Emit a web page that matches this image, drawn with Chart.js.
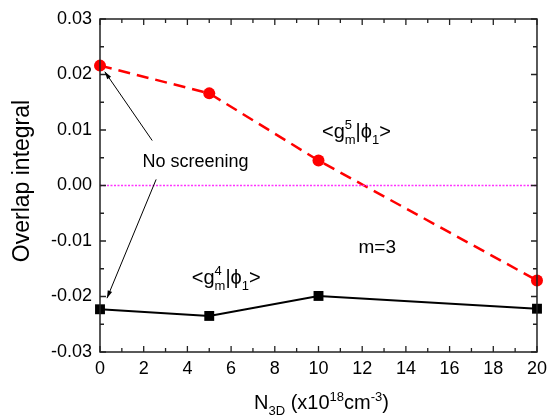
<!DOCTYPE html>
<html>
<head>
<meta charset="utf-8">
<script src="https://cdn.jsdelivr.net/npm/chart.js@4"></script>
<style>
  body { margin: 0; background: #fff; }
  #wrap { width: 553px; height: 416px; }
</style>
</head>
<body>
<div id="wrap"><canvas id="overlapChart" width="553" height="416"></canvas></div>
<script>
// values
const densities = [0, 5, 10, 20];
const overlapG5 = [0.0216, 0.0166, 0.0045, -0.0171];
const overlapG4 = [-0.0223, -0.0235, -0.0199, -0.0222];
const zeroLineX = [0, 20];
const zeroLineY = [0, 0];

const FONT = "'Liberation Sans', Arial, sans-serif";

function toPoints(xs, ys) {
    return xs.map((x, i) => ({ x: x, y: ys[i] }));
}

// draws text with sub/superscripts; parts: {t}, {sub}, {sup}, or {sup, sub} stacked
function richText(ctx, x, y, parts, size) {
    const small = Math.round(size * 0.65);
    let cx = x;
    parts.forEach(p => {
        if (p.t !== undefined) {
            ctx.font = size + 'px ' + FONT;
            ctx.fillText(p.t, cx, y);
            cx += ctx.measureText(p.t).width;
        } else {
            ctx.font = small + 'px ' + FONT;
            let w = 0;
            if (p.sup !== undefined) {
                ctx.fillText(p.sup, cx, y - size * 0.42);
                w = Math.max(w, ctx.measureText(p.sup).width);
            }
            if (p.sub !== undefined) {
                ctx.fillText(p.sub, cx, y + size * 0.3);
                w = Math.max(w, ctx.measureText(p.sub).width);
            }
            cx += w;
        }
    });
    return cx - x;
}

function arrow(ctx, x1, y1, x2, y2) {
    const ang = Math.atan2(y2 - y1, x2 - x1);
    ctx.beginPath();
    ctx.moveTo(x1, y1);
    ctx.lineTo(x2, y2);
    ctx.stroke();
    const len = 8, spread = 0.3;
    ctx.beginPath();
    ctx.moveTo(x2, y2);
    ctx.lineTo(x2 - len * Math.cos(ang - spread), y2 - len * Math.sin(ang - spread));
    ctx.lineTo(x2 - len * Math.cos(ang + spread), y2 - len * Math.sin(ang + spread));
    ctx.closePath();
    ctx.fill();
}

const decorations = {
    id: 'decorations',
    afterDraw(chart) {
        const ctx = chart.ctx;
        const xs = chart.scales.x, ys = chart.scales.y;
        const a = chart.chartArea;
        ctx.save();
        ctx.strokeStyle = '#222';
        ctx.lineWidth = 1.5;
        ctx.strokeRect(a.left, a.top, a.right - a.left, a.bottom - a.top);

        // inward ticks on all four sides
        ctx.lineWidth = 1.3;
        ctx.beginPath();
        for (let v = 0; v <= 20; v += 1) {
            const px = xs.getPixelForValue(v);
            const len = v % 2 === 0 ? 6 : 4;
            ctx.moveTo(px, a.bottom); ctx.lineTo(px, a.bottom - len);
            ctx.moveTo(px, a.top); ctx.lineTo(px, a.top + len);
        }
        for (let i = -6; i <= 6; i++) {
            const py = ys.getPixelForValue(i * 0.005);
            const len = i % 2 === 0 ? 6 : 4;
            ctx.moveTo(a.left, py); ctx.lineTo(a.left + len, py);
            ctx.moveTo(a.right, py); ctx.lineTo(a.right - len, py);
        }
        ctx.stroke();

        // annotations
        ctx.fillStyle = '#000';
        ctx.textBaseline = 'alphabetic';
        ctx.textAlign = 'left';
        ctx.font = '18px ' + FONT;
        ctx.fillText('No screening', xs.getPixelForValue(1.94), ys.getPixelForValue(0.0034));
        ctx.font = '19px ' + FONT;
        ctx.fillText('m=3', xs.getPixelForValue(11.83), ys.getPixelForValue(-0.0121));
        richText(ctx, xs.getPixelForValue(10.16), ys.getPixelForValue(0.0086),
            [{ t: '<g' }, { sup: '5', sub: 'm' }, { t: '|\u03d5' }, { sub: '1' }, { t: '>' }], 20);
        richText(ctx, xs.getPixelForValue(4.2), ys.getPixelForValue(-0.0177),
            [{ t: '<g' }, { sup: '4', sub: 'm' }, { t: '|\u03d5' }, { sub: '1' }, { t: '>' }], 20);

        ctx.strokeStyle = '#000';
        ctx.lineWidth = 1;
        arrow(ctx, xs.getPixelForValue(2.39), ys.getPixelForValue(0.0081),
            xs.getPixelForValue(0.22), ys.getPixelForValue(0.0205));
        arrow(ctx, xs.getPixelForValue(2.57), ys.getPixelForValue(0.0011),
            xs.getPixelForValue(0.32), ys.getPixelForValue(-0.0203));

        // axis titles
        const xParts = [{ t: 'N' }, { sub: '3D' }, { t: ' (x10' }, { sup: '18' }, { t: 'cm' }, { sup: '-3' }, { t: ')' }];
        ctx.globalAlpha = 0;
        const w = richText(ctx, 0, 0, xParts, 20);
        ctx.globalAlpha = 1;
        richText(ctx, (a.left + a.right) / 2 - w / 2 + 3, a.bottom + 57, xParts, 20);

        ctx.translate(23, 181);
        ctx.rotate(-Math.PI / 2);
        ctx.textAlign = 'center';
        ctx.textBaseline = 'middle';
        ctx.font = '23px ' + FONT;
        ctx.fillText('Overlap integral', 0, 0);
        ctx.restore();
    }
};

new Chart(document.getElementById('overlapChart').getContext('2d'), {
    type: 'scatter',
    data: {
        datasets: [
            {
                label: 'zero',
                data: toPoints(zeroLineX, zeroLineY),
                showLine: true,
                borderColor: '#ff33ff',
                backgroundColor: '#ff33ff',
                borderWidth: 1.5,
                borderDash: [2, 1.5],
                pointRadius: 0
            },
            {
                label: '<g5m|phi1>',
                data: toPoints(densities, overlapG5),
                showLine: true,
                borderColor: '#ff0000',
                backgroundColor: '#ff0000',
                borderWidth: 2.5,
                borderDash: [12, 7],
                pointStyle: 'circle',
                pointRadius: 6,
                pointBorderWidth: 0,
                clip: false
            },
            {
                label: '<g4m|phi1>',
                data: toPoints(densities, overlapG4),
                showLine: true,
                borderColor: '#000',
                backgroundColor: '#000',
                borderWidth: 2,
                pointStyle: 'rect',
                pointRadius: 7,
                pointBorderWidth: 0,
                clip: false
            }
        ]
    },
    options: {
        responsive: false,
        animation: false,
        layout: { padding: { top: 19, right: 10, left: 0, bottom: 0 } },
        plugins: {
            legend: { display: false },
            tooltip: { enabled: false }
        },
        scales: {
            x: {
                type: 'linear',
                min: 0,
                max: 20,
                grid: { display: false, drawTicks: false },
                border: { display: false },
                ticks: {
                    stepSize: 2,
                    padding: 6,
                    color: '#000',
                    font: { family: FONT, size: 18 }
                },
                afterFit(scale) { scale.height = 64; }
            },
            y: {
                min: -0.03,
                max: 0.03,
                grid: { display: false, drawTicks: false },
                border: { display: false },
                ticks: {
                    stepSize: 0.01,
                    padding: 8,
                    color: '#000',
                    font: { family: FONT, size: 18 },
                    callback: v => Math.abs(v) < 1e-9 ? '0.00' : v.toFixed(2)
                },
                afterFit(scale) { scale.width = 100; }
            }
        }
    },
    plugins: [decorations]
});
</script>
</body>
</html>
